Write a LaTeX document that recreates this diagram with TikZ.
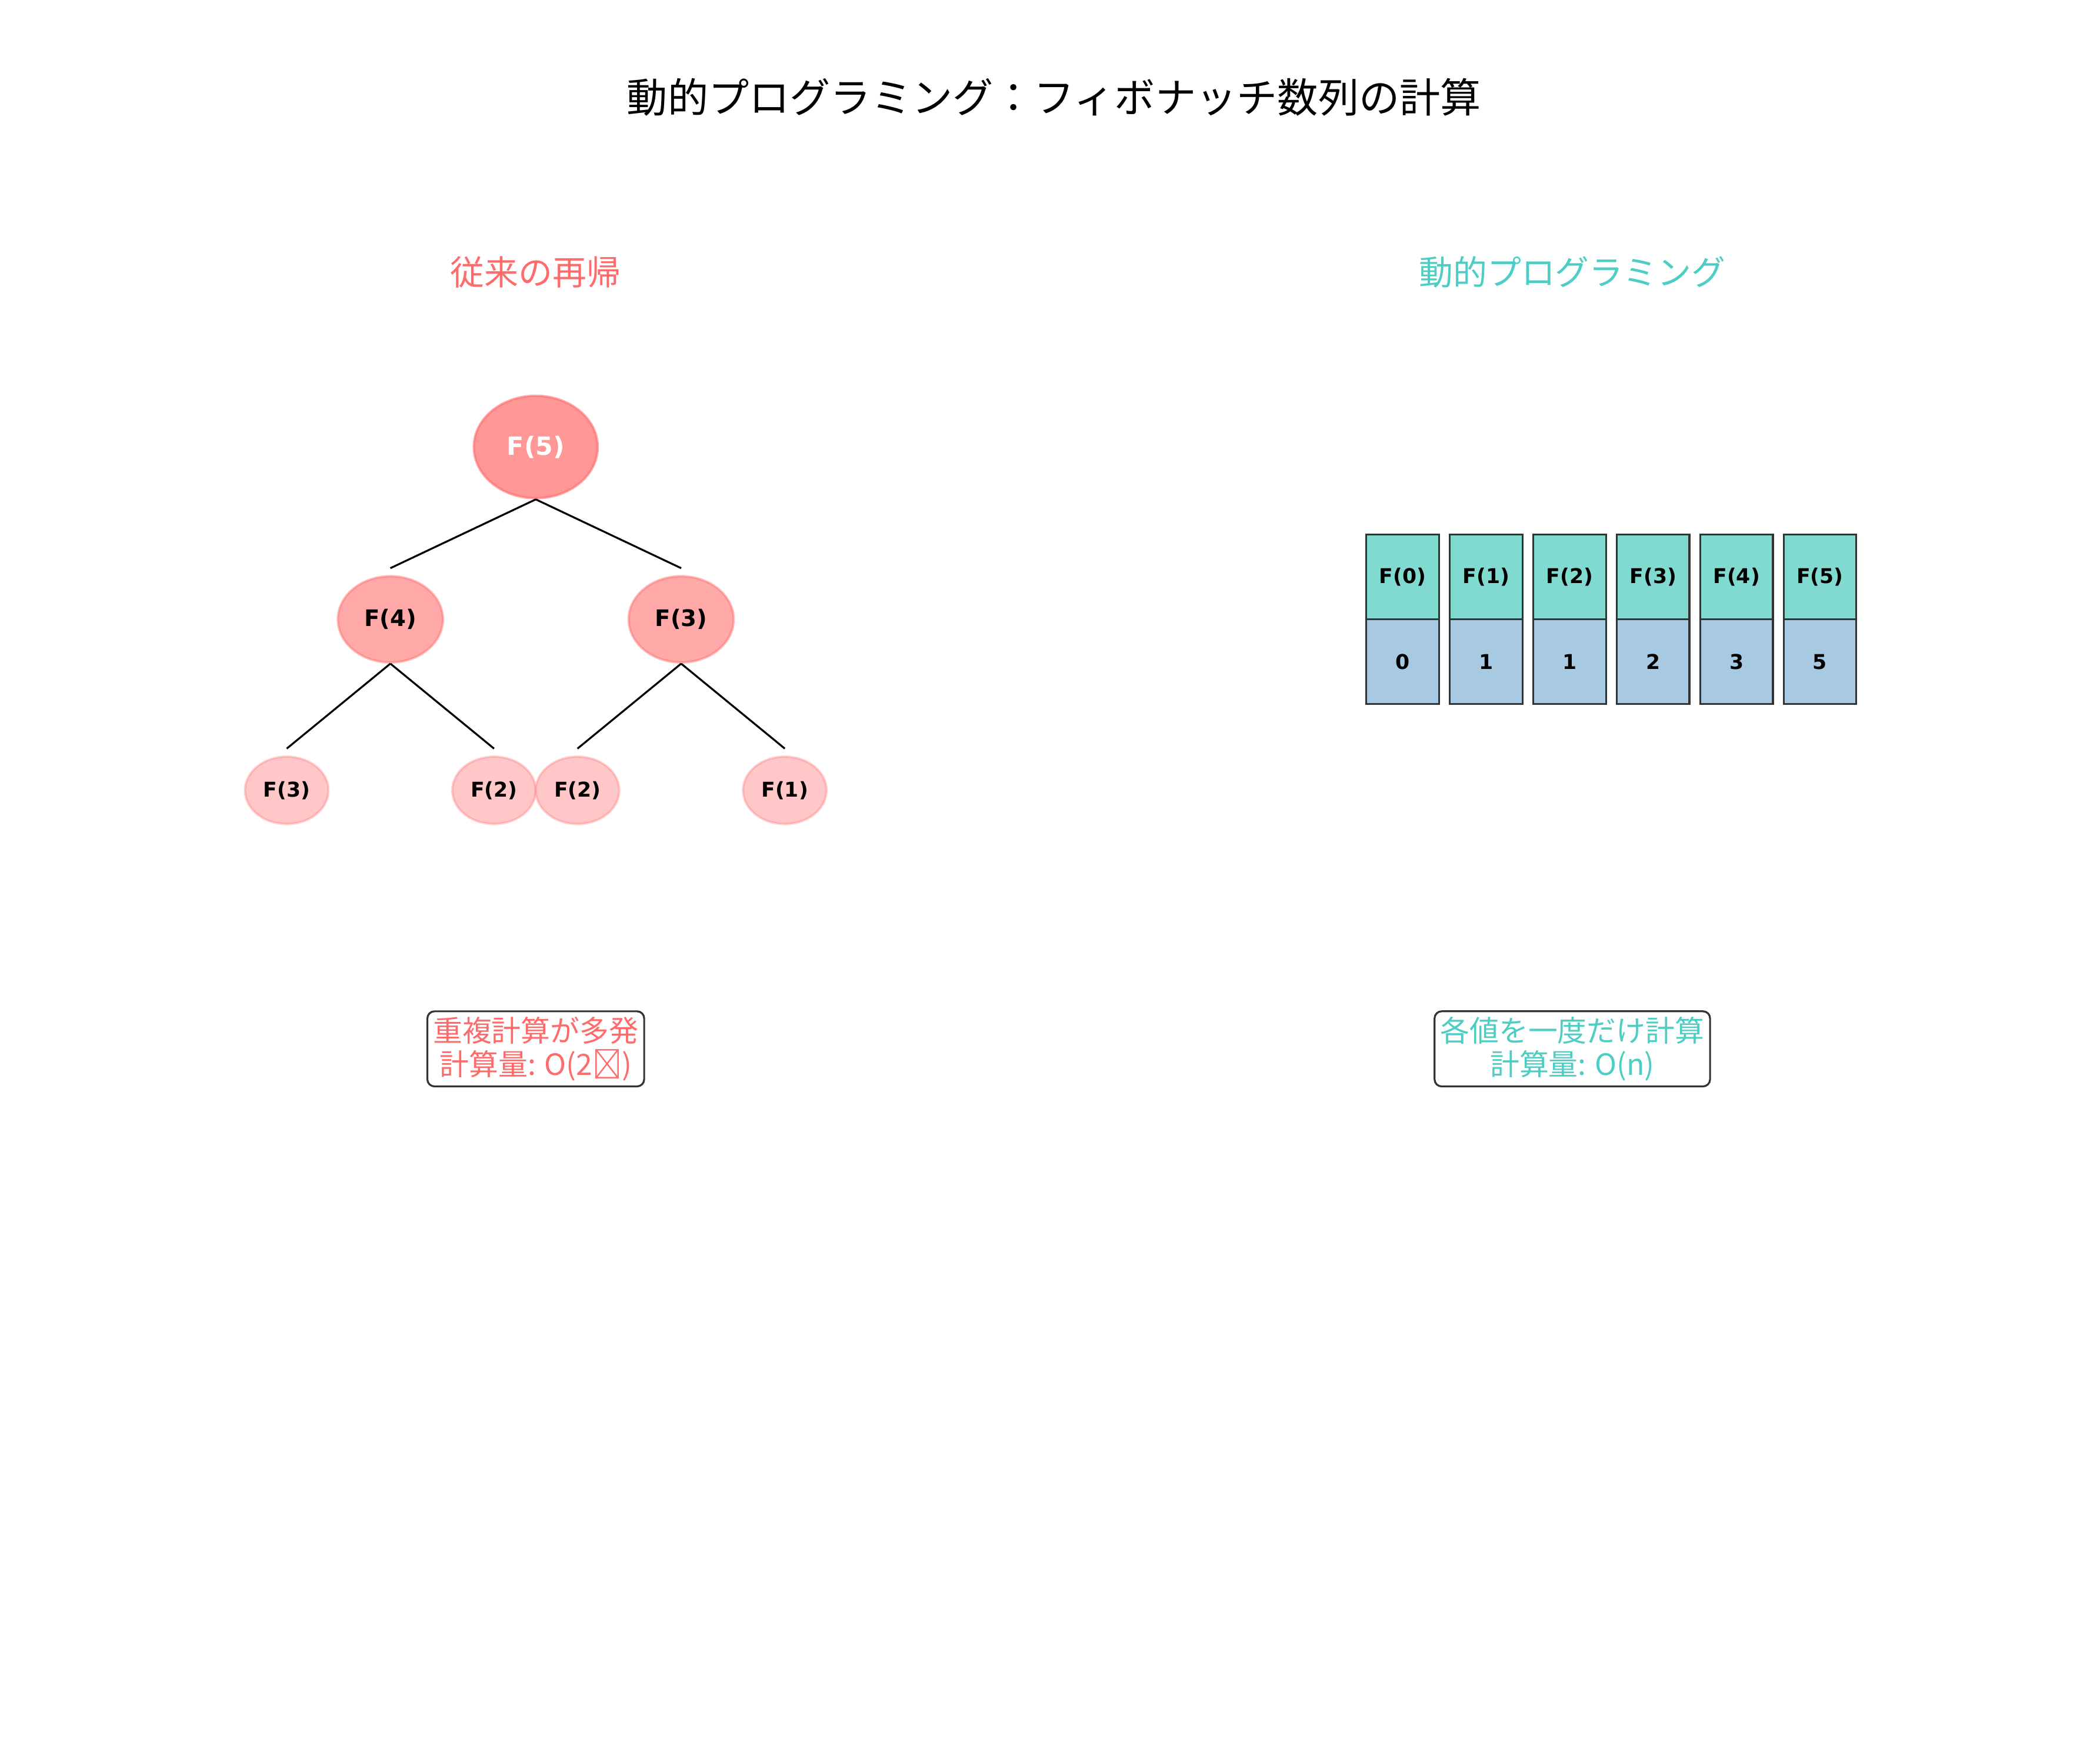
\documentclass[tikz,border=0pt]{standalone}
\usepackage{fontspec}
\setmainfont{Noto Sans CJK JP}
\newfontfamily\labelfont{DejaVu Sans}
\usetikzlibrary{shapes.geometric}
\definecolor{recred}{HTML}{FF6B6B}
\definecolor{dpteal}{HTML}{4ECDC4}
\definecolor{cellteal}{HTML}{80DAD0}
\definecolor{cellblue}{HTML}{A7C9E1}
\definecolor{cellline}{HTML}{333333}
\tikzset{
  callnode/.style={ellipse, draw=recred, line width=0.5pt, inner sep=0pt, font=\labelfont\bfseries},
  cellbox/.style={draw=cellline, line width=0.4pt, minimum width=0.54cm, minimum height=0.63cm, inner sep=0pt, font=\labelfont\bfseries\fontsize{4.3}{5}\selectfont},
  notebox/.style={draw=cellline, rounded corners=1.5pt, line width=0.4pt, align=center, inner sep=1.2pt, font=\fontsize{6.2}{7}\selectfont}
}
\begin{document}
\begin{tikzpicture}[x=0.01cm, y=-0.01cm]
    \useasboundingbox (0, 0) rectangle (1560, 1298);
    \node (title) at (783, 72) {\fontsize{8.6}{10}\selectfont 動的プログラミング：フィボナッチ数列の計算};
    \node [text=recred] (lefthead) at (398, 202) {\fontsize{7.2}{8}\selectfont 従来の再帰};
    \node [text=dpteal] (righthead) at (1168, 202) {\fontsize{7.2}{8}\selectfont 動的プログラミング};

    % recursion tree
    \node [callnode, fill=recred!70, draw opacity=.6, minimum width=0.92cm, minimum height=0.76cm, text=white, font=\labelfont\bfseries\fontsize{5.3}{6}\selectfont] (f5) at (398, 332) {F(5)};
    \node [callnode, fill=recred!58, draw opacity=.45, minimum width=0.78cm, minimum height=0.64cm, font=\labelfont\bfseries\fontsize{4.8}{6}\selectfont] (f4) at (290, 460) {F(4)};
    \node [callnode, fill=recred!58, draw opacity=.45, minimum width=0.78cm, minimum height=0.64cm, font=\labelfont\bfseries\fontsize{4.8}{6}\selectfont] (f3) at (506, 460) {F(3)};
    \node [callnode, fill=recred!38, draw opacity=.3, minimum width=0.62cm, minimum height=0.5cm, font=\labelfont\bfseries\fontsize{4.3}{5}\selectfont] (f3a) at (213, 587) {F(3)};
    \node [callnode, fill=recred!38, draw opacity=.3, minimum width=0.62cm, minimum height=0.5cm, font=\labelfont\bfseries\fontsize{4.3}{5}\selectfont] (f2a) at (367, 587) {F(2)};
    \node [callnode, fill=recred!38, draw opacity=.3, minimum width=0.62cm, minimum height=0.5cm, font=\labelfont\bfseries\fontsize{4.3}{5}\selectfont] (f2b) at (429, 587) {F(2)};
    \node [callnode, fill=recred!38, draw opacity=.3, minimum width=0.62cm, minimum height=0.5cm, font=\labelfont\bfseries\fontsize{4.3}{5}\selectfont] (f1a) at (583, 587) {F(1)};
    \coordinate (c4) at (290, 422);
    \coordinate (c3) at (506, 422);
    \coordinate (c3a) at (213, 556);
    \coordinate (c2a) at (367, 556);
    \coordinate (c2b) at (429, 556);
    \coordinate (c1a) at (583, 556);
    \draw [line width=0.4pt] (f5.south) -- (c4);
    \draw [line width=0.4pt] (f5.south) -- (c3);
    \draw [line width=0.4pt] (f4.south) -- (c3a);
    \draw [line width=0.4pt] (f4.south) -- (c2a);
    \draw [line width=0.4pt] (f3.south) -- (c2b);
    \draw [line width=0.4pt] (f3.south) -- (c1a);

    % memo table
    \foreach \i/\v in {0/0, 1/1, 2/1, 3/2, 4/3, 5/5} {
        \node [cellbox, fill=cellteal] (key\i) at (1042 + 62*\i, 428.5) {F(\i)};
        \node [cellbox, fill=cellblue] (val\i) at (1042 + 62*\i, 491.5) {\v};
    }

    \node [notebox, text=recred] (leftnote) at (398, 779) {重複計算が多発\\計算量: O(2ⁿ)};
    \node [notebox, text=dpteal] (rightnote) at (1168, 779) {各値を一度だけ計算\\計算量: O(n)};
\end{tikzpicture}
\end{document}
